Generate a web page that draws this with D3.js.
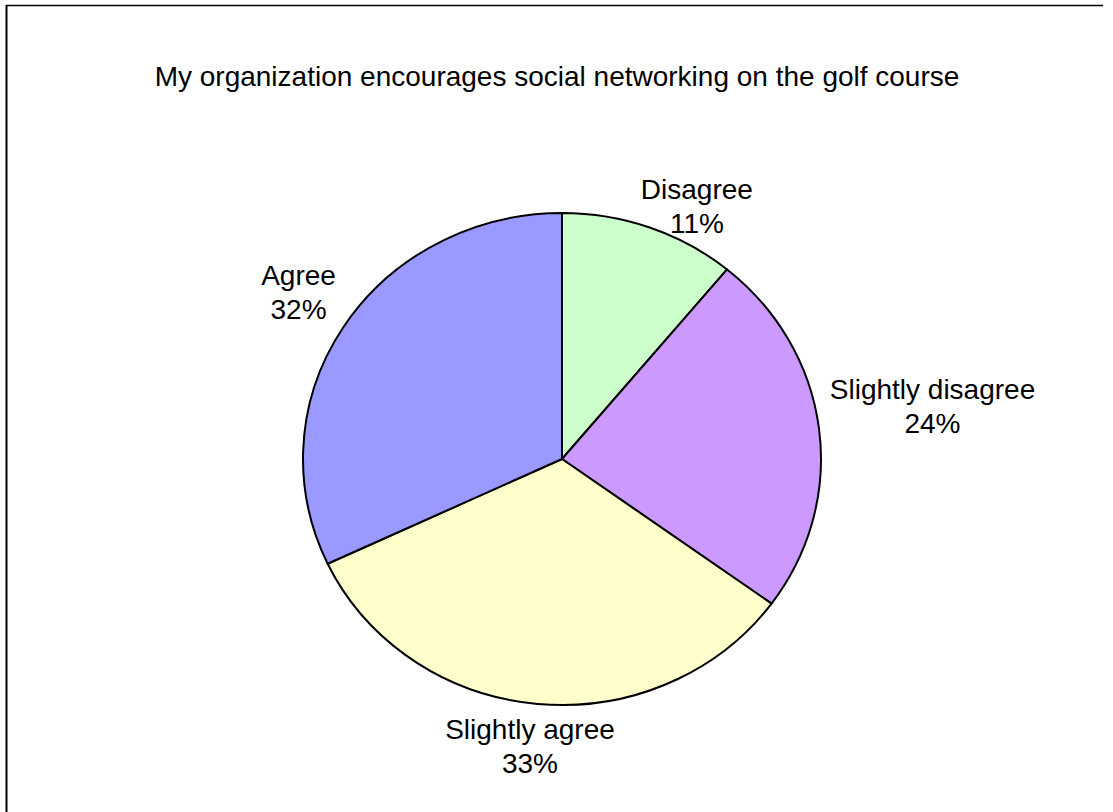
<!DOCTYPE html>
<html>
<head>
<meta charset="utf-8">
<script src="https://cdn.jsdelivr.net/npm/d3@7"></script>
<style>
html,body{margin:0;padding:0;background:#fff;}
svg{display:block;}
text{font-family:"Liberation Sans",Arial,sans-serif;fill:#000;}
</style>
</head>
<body>
<svg id="chart" width="1113" height="812"></svg>
<script>
const title = "My organization encourages social networking on the golf course";
const categories = ["Disagree", "Slightly disagree", "Slightly agree", "Agree"];
const values = [11, 24, 33, 32];
const colors = ["#ccffcc", "#cc99ff", "#ffffcc", "#9999ff"];

const svg = d3.select("#chart");
const W = 1113, H = 812;
svg.append("rect").attr("width", W).attr("height", H).attr("fill", "#fff");

// frame (top and left edges visible)
svg.append("line").attr("x1", 6).attr("y1", 5.5).attr("x2", 1103).attr("y2", 5.5)
  .attr("stroke", "#000").attr("stroke-width", 1.5);
svg.append("line").attr("x1", 6.5).attr("y1", 5).attr("x2", 6.5).attr("y2", H)
  .attr("stroke", "#000").attr("stroke-width", 2);

svg.append("text").attr("x", 557).attr("y", 86).attr("text-anchor", "middle")
  .style("font-size", "28px").text(title);

// pie is slightly squashed vertically in the reference
const cx = 562, cy = 459, rx = 259, ry = 246;
const data = categories.map((c, i) => ({cat: c, value: values[i], color: colors[i]}));
const pie = d3.pie().value(d => d.value).sort(null);
const arc = d3.arc().innerRadius(0).outerRadius(rx);
const arcs = pie(data);

const g = svg.append("g").attr("transform", `translate(${cx},${cy}) scale(1,${ry / rx})`);
g.selectAll("path").data(arcs).enter().append("path")
  .attr("d", arc)
  .attr("fill", d => d.data.color)
  .attr("stroke", "#000")
  .attr("stroke-width", 2)
  .attr("vector-effect", "non-scaling-stroke")
  .attr("stroke-linejoin", "round");

// labels: outside the pie along each slice's mid-angle, with small nudges
const lf = 1.15;
const nudges = [[34, 13], [75, -18], [-4, 5], [-12, -15]];
const lg = svg.append("g").attr("transform", `translate(${cx},${cy})`);
arcs.forEach((a, i) => {
  const mid = (a.startAngle + a.endAngle) / 2;
  const x = Math.sin(mid) * rx * lf + nudges[i][0];
  const y = -Math.cos(mid) * ry * lf + nudges[i][1];
  const t = lg.append("text").attr("text-anchor", "middle").style("font-size", "28px");
  t.append("tspan").attr("x", x).attr("y", y - 7).text(a.data.cat);
  t.append("tspan").attr("x", x).attr("y", y + 27).text(a.data.value + "%");
});
</script>
</body>
</html>
